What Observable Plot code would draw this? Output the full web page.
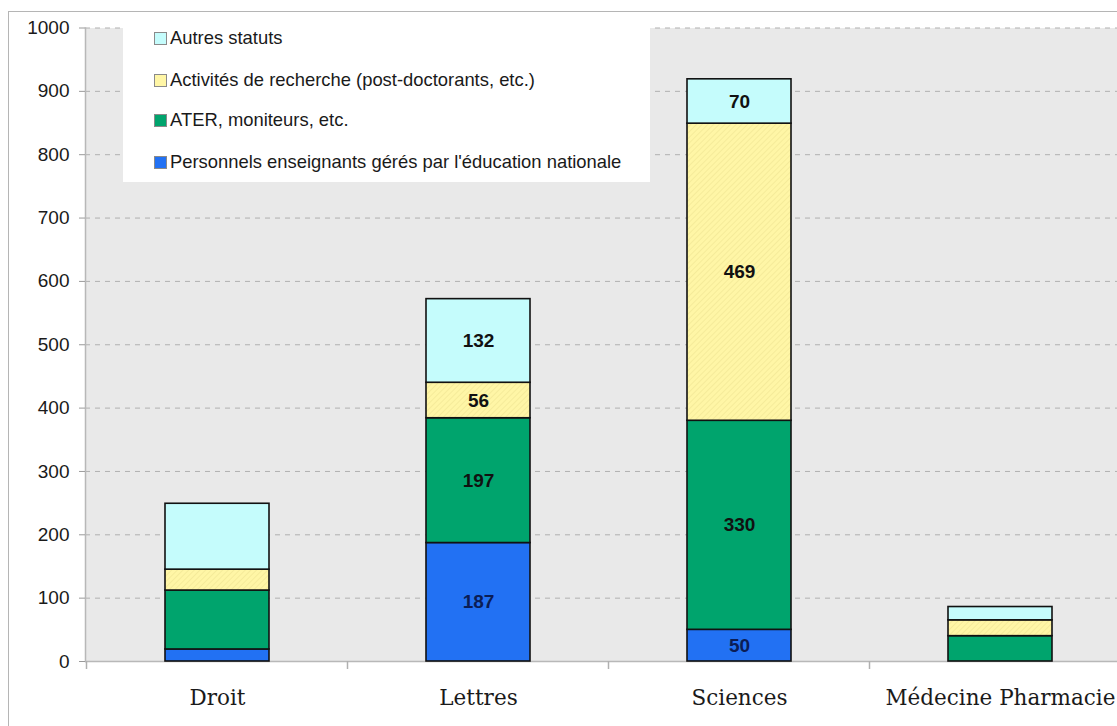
<!DOCTYPE html>
<html><head><meta charset="utf-8">
<script src="https://cdn.jsdelivr.net/npm/d3@7"></script>
<script src="https://cdn.jsdelivr.net/npm/@observablehq/plot@0.6"></script>
<style>
html,body{margin:0;padding:0;overflow:hidden;background:#fff;width:1117px;height:726px}
#wrap{position:relative;width:1117px;height:726px;overflow:hidden}
#chart svg{display:block;max-width:none!important}
#frame{position:absolute;left:8px;top:11px;width:1200px;height:800px;border:1px solid #b5b5b5;pointer-events:none}
#legend{position:absolute;left:123px;top:27px;width:527px;height:155px;background:#fff;font-family:"Liberation Sans",Arial,sans-serif;font-size:18.4px;color:#1a1a1a}
.item{position:absolute;left:31px;display:flex;align-items:center;height:22px;white-space:nowrap}
.sw{width:13px;height:13px;border:1px solid #8a8a8a;margin-right:3px;box-sizing:border-box}
</style></head><body>
<div id="wrap"><div id="chart"></div><div id="legend"></div><div id="frame"></div></div>
<script>
const categories = ["Droit", "Lettres", "Sciences", "Médecine Pharmacie"];
const series = [
  "Personnels enseignants gérés par l'éducation nationale",
  "ATER, moniteurs, etc.",
  "Activités de recherche (post-doctorants, etc.)",
  "Autres statuts"
];
const personnels = [19, 187, 50, 0];
const ater = [93, 197, 330, 40];
const recherche = [33, 56, 469, 25];
const autres = [104, 132, 70, 21];
const showLabels = [false, true, true, false];
const yTicks = [0, 100, 200, 300, 400, 500, 600, 700, 800, 900, 1000];
const colors = ["#2271f3", "#00a46d", "url(#hatchY)", "#c5fcfc"];
const legendColors = ["#2271f3", "#00a46d", "#fff6a6", "#c5fcfc"];

const valuesBySeries = [personnels, ater, recherche, autres];
const rows = [];
categories.forEach((c, i) => {
  series.forEach((s, j) => {
    rows.push({category: c, series: s, value: valuesBySeries[j][i], labelled: showLabels[i]});
  });
});

const plot = Plot.plot({
  width: 1132,
  height: 726,
  marginLeft: 85,
  marginRight: 0,
  marginTop: 27.5,
  marginBottom: 65,
  style: {fontFamily: "'Liberation Sans', Arial, sans-serif", background: "transparent", maxWidth: "none"},
  x: {domain: categories, paddingInner: 0.6, paddingOuter: 0.3, label: null},
  y: {domain: [0, 1000], label: null},
  color: {domain: series, range: colors},
  marks: [
    Plot.frame({fill: "#e9e9e9", stroke: null}),
    Plot.gridY(yTicks.filter(d => d > 0), {stroke: "#b0b0b0", strokeOpacity: 1, strokeDasharray: "5,5"}),
    Plot.ruleY([0], {stroke: "#b8b8b8", strokeWidth: 1.5}),
    Plot.frame({anchor: "left", stroke: "#b8b8b8", strokeWidth: 1.5}),
    Plot.barY(rows, Plot.stackY({x: "category", y: "value", fill: "series", z: "series", order: series, stroke: "#111", strokeWidth: 1.6})),
    Plot.text(rows, Plot.stackY({
      filter: d => d.labelled && d.value > 0,
      x: "category", y: "value", z: "series", order: series, text: "value",
      fill: d => d.series === series[0] ? "#0b1d55" : "#111",
      fontSize: 19, fontWeight: "bold"
    })),
    Plot.axisY({ticks: yTicks, tickFormat: d => String(d), tickSize: 6, tickPadding: 10, fontSize: 19, stroke: "#999", fill: "#1a1a1a", label: null}),
    Plot.axisX({tickSize: 0, tickPadding: 28, fontSize: 21.5, fontFamily: "'DejaVu Serif', serif", fill: "#1a1a1a", label: null})
  ]
});

document.getElementById("chart").appendChild(plot);

// hatch pattern for the yellow series
const svg = d3.select(plot);
const defs = svg.insert("defs", ":first-child");
const pat = defs.append("pattern").attr("id", "hatchY").attr("patternUnits", "userSpaceOnUse")
  .attr("width", 4).attr("height", 4).attr("patternTransform", "rotate(45)");
pat.append("rect").attr("width", 4).attr("height", 4).attr("fill", "#fff6a6");
pat.append("line").attr("x1", 0).attr("y1", 0).attr("x2", 0).attr("y2", 4).attr("stroke", "#ece08f").attr("stroke-width", 1);

// category boundary ticks on the x axis
const xs = plot.scale("x");
const ys = plot.scale("y");
const y0 = ys.apply(0);
const gap = (xs.step - xs.bandwidth) / 2;
const tg = svg.append("g").attr("stroke", "#b0b0b0").attr("stroke-width", 1.5);
categories.forEach(c => {
  const bx = xs.apply(c) - gap;
  tg.append("line").attr("x1", bx).attr("x2", bx).attr("y1", y0).attr("y2", y0 + 8);
});

// legend
const legend = document.getElementById("legend");
const centers = [11, 53, 93, 135];
[3, 2, 1, 0].forEach((j, k) => {
  const it = document.createElement("div");
  it.className = "item";
  it.style.top = (centers[k] - 11) + "px";
  const sw = document.createElement("span");
  sw.className = "sw";
  sw.style.background = legendColors[j];
  const tx = document.createElement("span");
  tx.textContent = series[j];
  it.appendChild(sw); it.appendChild(tx);
  legend.appendChild(it);
});
</script>
</body></html>
